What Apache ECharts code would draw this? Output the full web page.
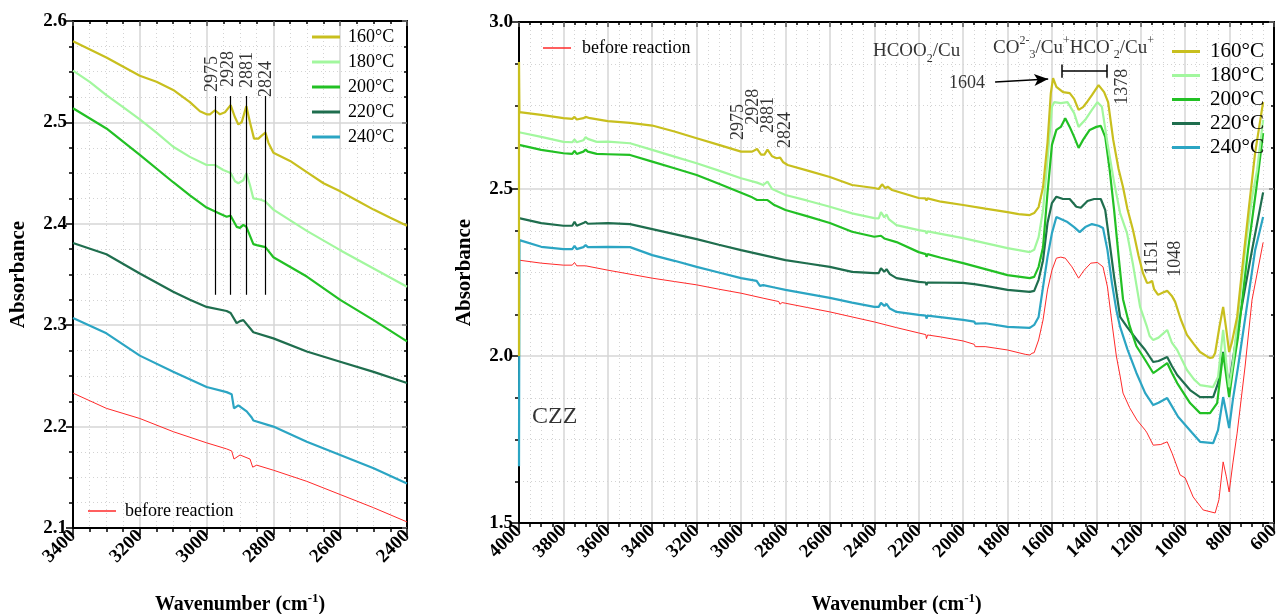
<!DOCTYPE html>
<html><head><meta charset="utf-8">
<script src="https://cdn.jsdelivr.net/npm/echarts@6/dist/echarts.min.js"></script>
<style>html,body{margin:0;padding:0;background:#fff}#c{width:1279px;height:614px}</style>
</head><body><div id="c"></div>
<script>
// ---------- DATA ----------
const tempNames = ['160°C','180°C','200°C','220°C','240°C'];
const refName = 'before reaction';
const peakWn = [2975, 2928, 2881, 2824];
const peakLabels = ['2975', '2928', '2881', '2824'];

// Left panel (3400-2400 cm-1)
const left160 = [[3400,2.580],[3300,2.564],[3200,2.546],[3150,2.540],[3100,2.532],[3050,2.520],[3020,2.511],[3000,2.508],[2990,2.508],[2975,2.512],[2960,2.508],[2945,2.510],[2928,2.517],[2915,2.505],[2905,2.498],[2895,2.500],[2881,2.516],[2870,2.500],[2858,2.484],[2845,2.484],[2835,2.487],[2824,2.490],[2815,2.480],[2800,2.470],[2750,2.462],[2700,2.451],[2650,2.440],[2600,2.432],[2550,2.423],[2500,2.414],[2450,2.406],[2400,2.398]];
const left180 = [[3400,2.551],[3350,2.540],[3300,2.527],[3250,2.515],[3200,2.503],[3150,2.490],[3100,2.476],[3050,2.466],[3000,2.458],[2975,2.458],[2950,2.453],[2928,2.450],[2915,2.442],[2905,2.440],[2890,2.443],[2881,2.450],[2870,2.438],[2860,2.425],[2840,2.424],[2824,2.422],[2800,2.414],[2700,2.393],[2600,2.374],[2500,2.356],[2400,2.338]];
const left200 = [[3400,2.514],[3300,2.494],[3200,2.468],[3100,2.441],[3050,2.428],[3000,2.416],[2960,2.410],[2940,2.407],[2928,2.408],[2910,2.397],[2900,2.396],[2890,2.399],[2881,2.397],[2860,2.380],[2850,2.379],[2824,2.377],[2800,2.367],[2700,2.348],[2600,2.325],[2500,2.305],[2400,2.284]];
const left220 = [[3400,2.381],[3300,2.370],[3200,2.351],[3100,2.333],[3050,2.325],[3000,2.318],[2940,2.314],[2928,2.312],[2910,2.302],[2900,2.304],[2890,2.305],[2860,2.293],[2800,2.287],[2700,2.274],[2600,2.264],[2500,2.254],[2400,2.243]];
const left240 = [[3400,2.307],[3300,2.292],[3200,2.270],[3100,2.254],[3000,2.239],[2940,2.234],[2925,2.232],[2918,2.218],[2905,2.221],[2880,2.215],[2865,2.209],[2860,2.206],[2800,2.200],[2700,2.185],[2600,2.172],[2500,2.159],[2400,2.144]];
const leftRef = [[3400,2.233],[3300,2.218],[3200,2.208],[3100,2.195],[3000,2.184],[2940,2.178],[2925,2.176],[2918,2.168],[2900,2.172],[2870,2.168],[2862,2.160],[2850,2.162],[2800,2.157],[2700,2.146],[2600,2.133],[2500,2.120],[2400,2.106]];

// Right panel (4000-650 cm-1)
const right160 = [[4000,2.00],[4000,2.88],[3998,2.73],[3900,2.722],[3800,2.712],[3760,2.710],[3750,2.716],[3740,2.708],[3710,2.712],[3700,2.716],[3680,2.712],[3600,2.703],[3500,2.698],[3400,2.690],[3300,2.672],[3200,2.652],[3100,2.632],[3000,2.612],[2975,2.612],[2950,2.612],[2928,2.620],[2910,2.603],[2895,2.603],[2881,2.618],[2860,2.598],[2840,2.592],[2824,2.594],[2810,2.580],[2790,2.572],[2700,2.555],[2600,2.536],[2500,2.512],[2400,2.503],[2380,2.500],[2365,2.514],[2350,2.502],[2340,2.507],[2320,2.497],[2200,2.473],[2170,2.472],[2165,2.466],[2160,2.472],[2100,2.462],[2000,2.452],[1900,2.441],[1800,2.431],[1750,2.425],[1700,2.422],[1680,2.428],[1660,2.446],[1640,2.506],[1620,2.638],[1605,2.787],[1595,2.832],[1580,2.806],[1550,2.790],[1520,2.787],[1500,2.770],[1480,2.737],[1460,2.745],[1440,2.762],[1420,2.781],[1390,2.811],[1365,2.790],[1347,2.760],[1324,2.647],[1300,2.560],[1280,2.506],[1260,2.440],[1235,2.377],[1210,2.300],[1190,2.248],[1172,2.219],[1160,2.220],[1149,2.225],[1140,2.200],[1122,2.183],[1100,2.190],[1081,2.195],[1060,2.180],[1045,2.162],[1020,2.110],[992,2.063],[960,2.035],[933,2.012],[900,1.998],[888,1.994],[875,1.996],[865,2.009],[845,2.090],[829,2.147],[815,2.080],[802,2.012],[790,2.040],[766,2.117],[739,2.287],[712,2.450],[685,2.608],[649,2.760]];
const right180 = [[4000,2.670],[3900,2.656],[3800,2.641],[3760,2.640],[3750,2.648],[3740,2.640],[3710,2.646],[3700,2.655],[3690,2.650],[3650,2.641],[3600,2.642],[3500,2.637],[3400,2.617],[3300,2.597],[3200,2.577],[3100,2.555],[3000,2.532],[2928,2.519],[2900,2.512],[2881,2.522],[2860,2.500],[2850,2.497],[2800,2.482],[2700,2.465],[2600,2.447],[2500,2.427],[2400,2.413],[2380,2.412],[2370,2.431],[2355,2.415],[2345,2.424],[2335,2.410],[2300,2.392],[2200,2.377],[2168,2.373],[2165,2.366],[2160,2.373],[2000,2.353],[1900,2.338],[1800,2.323],[1700,2.311],[1680,2.318],[1660,2.356],[1640,2.437],[1620,2.587],[1600,2.746],[1590,2.760],[1560,2.757],[1530,2.760],[1500,2.727],[1480,2.686],[1450,2.707],[1420,2.737],[1395,2.760],[1375,2.746],[1350,2.637],[1320,2.520],[1293,2.428],[1262,2.368],[1234,2.270],[1203,2.147],[1172,2.087],[1160,2.060],[1144,2.048],[1120,2.055],[1081,2.078],[1060,2.040],[1036,2.018],[992,1.958],[960,1.930],[933,1.913],[874,1.907],[852,1.937],[829,2.078],[815,1.980],[802,1.907],[785,1.980],[762,2.117],[730,2.317],[700,2.470],[676,2.557],[649,2.707]];
const right200 = [[4000,2.632],[3900,2.617],[3800,2.607],[3760,2.605],[3750,2.614],[3740,2.605],[3710,2.612],[3700,2.618],[3690,2.612],[3650,2.605],[3600,2.604],[3500,2.602],[3400,2.582],[3300,2.562],[3200,2.542],[3100,2.516],[3000,2.489],[2950,2.475],[2928,2.467],[2900,2.467],[2881,2.467],[2850,2.452],[2800,2.437],[2700,2.418],[2600,2.398],[2500,2.372],[2400,2.357],[2370,2.360],[2355,2.352],[2300,2.341],[2200,2.311],[2168,2.305],[2165,2.297],[2160,2.305],[2100,2.294],[2000,2.278],[1900,2.260],[1800,2.242],[1700,2.233],[1680,2.237],[1660,2.267],[1640,2.326],[1620,2.488],[1600,2.632],[1580,2.677],[1560,2.686],[1540,2.712],[1520,2.686],[1500,2.656],[1480,2.623],[1460,2.647],[1430,2.677],[1400,2.686],[1380,2.689],[1360,2.656],[1340,2.557],[1320,2.437],[1300,2.300],[1280,2.170],[1250,2.090],[1220,2.030],[1180,1.988],[1144,1.949],[1120,1.960],[1081,1.979],[1060,1.950],[1036,1.919],[978,1.859],[933,1.829],[888,1.829],[856,1.859],[829,2.009],[815,1.940],[802,1.877],[785,1.960],[762,2.057],[717,2.317],[680,2.500],[649,2.667]];
const right220 = [[4000,2.413],[3900,2.398],[3800,2.390],[3760,2.390],[3750,2.402],[3740,2.390],[3710,2.398],[3700,2.402],[3690,2.396],[3600,2.398],[3500,2.395],[3400,2.380],[3300,2.365],[3200,2.350],[3100,2.333],[3000,2.317],[2900,2.302],[2800,2.287],[2700,2.277],[2600,2.267],[2500,2.252],[2400,2.248],[2380,2.248],[2370,2.263],[2355,2.252],[2345,2.260],[2330,2.245],[2300,2.233],[2200,2.222],[2168,2.220],[2165,2.212],[2160,2.220],[2000,2.219],[1950,2.215],[1945,2.210],[1900,2.210],[1800,2.198],[1700,2.192],[1680,2.195],[1660,2.228],[1640,2.287],[1620,2.398],[1600,2.458],[1580,2.477],[1550,2.470],[1520,2.470],[1490,2.447],[1470,2.444],[1440,2.464],[1410,2.470],[1380,2.470],[1360,2.437],[1340,2.338],[1320,2.237],[1293,2.117],[1262,2.087],[1217,2.048],[1180,2.018],[1144,1.982],[1120,1.985],[1081,1.997],[1060,1.970],[1036,1.943],[978,1.898],[933,1.877],[874,1.877],[852,1.919],[829,2.012],[815,1.960],[802,1.913],[785,1.990],[762,2.087],[699,2.317],[675,2.400],[649,2.490]];
const right240 = [[4000,1.670],[3998,2.347],[3900,2.327],[3800,2.320],[3760,2.320],[3750,2.330],[3740,2.320],[3710,2.326],[3700,2.332],[3690,2.326],[3600,2.327],[3500,2.326],[3400,2.302],[3300,2.285],[3200,2.267],[3100,2.250],[3000,2.233],[2930,2.225],[2915,2.210],[2900,2.212],[2850,2.205],[2800,2.198],[2700,2.186],[2600,2.174],[2500,2.160],[2400,2.147],[2380,2.147],[2370,2.159],[2355,2.150],[2345,2.156],[2330,2.142],[2300,2.132],[2200,2.123],[2168,2.121],[2165,2.112],[2160,2.121],[2000,2.108],[1950,2.103],[1945,2.097],[1900,2.098],[1800,2.087],[1700,2.084],[1680,2.093],[1660,2.117],[1640,2.207],[1620,2.296],[1600,2.368],[1580,2.416],[1560,2.410],[1530,2.401],[1500,2.386],[1475,2.371],[1450,2.386],[1420,2.395],[1390,2.390],[1370,2.383],[1350,2.317],[1330,2.219],[1310,2.138],[1293,2.087],[1260,2.020],[1220,1.950],[1180,1.889],[1144,1.853],[1120,1.860],[1081,1.874],[1060,1.850],[1032,1.818],[969,1.770],[933,1.743],[874,1.739],[852,1.778],[829,1.877],[815,1.830],[802,1.784],[785,1.870],[762,1.967],[685,2.317],[649,2.416]];
const rightRef = [[4000,2.287],[3900,2.278],[3800,2.272],[3760,2.272],[3750,2.280],[3740,2.270],[3700,2.270],[3600,2.257],[3500,2.245],[3400,2.233],[3300,2.223],[3200,2.213],[3100,2.200],[3000,2.188],[2900,2.173],[2830,2.163],[2825,2.155],[2815,2.160],[2800,2.158],[2700,2.145],[2600,2.132],[2500,2.117],[2400,2.102],[2300,2.085],[2200,2.069],[2168,2.064],[2165,2.052],[2160,2.063],[2100,2.057],[2000,2.045],[1950,2.035],[1945,2.028],[1900,2.028],[1800,2.018],[1720,2.005],[1700,2.003],[1690,2.008],[1680,2.010],[1660,2.048],[1640,2.108],[1620,2.198],[1600,2.257],[1580,2.293],[1560,2.296],[1540,2.293],[1510,2.267],[1480,2.233],[1455,2.257],[1425,2.278],[1395,2.280],[1370,2.267],[1350,2.207],[1330,2.100],[1310,2.000],[1293,1.940],[1280,1.889],[1250,1.845],[1217,1.808],[1180,1.778],[1172,1.770],[1144,1.733],[1110,1.735],[1081,1.743],[1059,1.709],[1023,1.644],[1000,1.635],[964,1.578],[919,1.539],[865,1.530],[848,1.570],[829,1.683],[815,1.640],[802,1.593],[785,1.680],[766,1.769],[730,1.970],[699,2.168],[649,2.340]];

// ---------- STYLE ----------
const FONT = 'Liberation Serif';
const COLORS = ['#c8bf1e', '#a2f79e', '#22c024', '#1f6e4e', '#2ba5c3'];
const REF_COLOR = '#ff2a2a';

const RICH = {
  n: {fontFamily: FONT, fontSize: 19, color: '#000', lineHeight: 26, verticalAlign: 'middle'},
  sup: {fontFamily: FONT, fontSize: 12, color: '#000', lineHeight: 14, verticalAlign: 'top'},
  sub: {fontFamily: FONT, fontSize: 12, color: '#000', lineHeight: 14, verticalAlign: 'bottom'}
};

function xAxes(gridIndex, min, max, nameGap) {
  const common = {type: 'value', gridIndex, min, max, interval: 200, inverse: true};
  return [
    Object.assign({}, common, {
      position: 'bottom',
      axisLine: {show: true, onZero: false, lineStyle: {color: '#000', width: 2}},
      axisTick: {show: true, inside: false, length: 7, lineStyle: {color: '#000', width: 1.5}},
      minorTick: {show: true, splitNumber: 4, length: 4, lineStyle: {color: '#000', width: 1.5}},
      splitLine: {show: true, lineStyle: {color: '#d6d6d6', width: 1.5}},
      minorSplitLine: {show: true, lineStyle: {color: '#d3d3d3', width: 1, type: [1, 3]}},
      axisLabel: {rotate: 45, fontFamily: FONT, fontWeight: 'bold', fontSize: 19, color: '#000', margin: 5,
                  formatter: v => String(Math.round(v))},
      name: '{b|Wavenumber (cm}{s|-1}{b|)}',
      nameLocation: 'middle', nameGap,
      nameTextStyle: {rich: {
        b: {fontFamily: FONT, fontWeight: 'bold', fontSize: 20, color: '#000', lineHeight: 26, verticalAlign: 'middle'},
        s: {fontFamily: FONT, fontWeight: 'bold', fontSize: 13, color: '#000', lineHeight: 14, verticalAlign: 'top'}
      }}
    }),
    Object.assign({}, common, {
      position: 'top',
      axisLine: {show: true, onZero: false, lineStyle: {color: '#000', width: 2}},
      axisTick: {show: true, inside: true, length: 5, lineStyle: {color: '#555', width: 1.5}},
      minorTick: {show: true, splitNumber: 4, length: 3, lineStyle: {color: '#000', width: 1.5}},
      splitLine: {show: false}, axisLabel: {show: false}
    })
  ];
}
function yAxes(gridIndex, min, max, interval, nameGap, fontSize) {
  const common = {type: 'value', gridIndex, min, max, interval};
  return [
    Object.assign({}, common, {
      position: 'left',
      axisLine: {show: true, onZero: false, lineStyle: {color: '#000', width: 2}},
      axisTick: {show: true, inside: false, length: 7, lineStyle: {color: '#000', width: 1.5}},
      minorTick: {show: true, splitNumber: 4, length: 4, lineStyle: {color: '#000', width: 1.5}},
      splitLine: {show: true, lineStyle: {color: '#d6d6d6', width: 1.5}},
      minorSplitLine: {show: true, lineStyle: {color: '#d3d3d3', width: 1, type: [1, 3]}},
      axisLabel: {fontFamily: FONT, fontWeight: 'bold', fontSize, color: '#000', margin: 6,
                  formatter: v => v.toFixed(1)},
      name: 'Absorbance', nameLocation: 'middle', nameGap, nameRotate: 90,
      nameTextStyle: {fontFamily: FONT, fontWeight: 'bold', fontSize: 21, color: '#000'}
    }),
    Object.assign({}, common, {
      position: 'right',
      axisLine: {show: true, onZero: false, lineStyle: {color: '#000', width: 2}},
      axisTick: {show: true, inside: true, length: 5, lineStyle: {color: '#777', width: 1.5}},
      minorTick: {show: true, splitNumber: 4, length: 3, lineStyle: {color: '#000', width: 1.5}},
      splitLine: {show: false}, axisLabel: {show: false}
    })
  ];
}

function lineSeries(name, data, color, width, xi, yi, z) {
  return {type: 'line', name, data, xAxisIndex: xi, yAxisIndex: yi, z,
    symbol: 'none', showSymbol: false, animation: false, clip: true,
    lineStyle: {color, width}, itemStyle: {color}};
}

function textSeries(xi, yi, items, marks) {
  return {
    type: 'scatter', xAxisIndex: xi, yAxisIndex: yi, symbolSize: 1, silent: true, z: 20, animation: false,
    itemStyle: {color: 'rgba(0,0,0,0)'},
    data: items.map(it => ({
      value: [it.x, it.y],
      label: {show: true, position: 'inside', formatter: it.text, rotate: it.rotate || 0,
        align: it.align || 'left', verticalAlign: it.va || 'middle',
        fontFamily: FONT, fontSize: it.size || 17, color: '#000', rich: it.rich}
    })),
    markLine: marks ? Object.assign({silent: true, animation: false, label: {show: false}}, marks) : undefined
  };
}

const leftData = [left160, left180, left200, left220, left240];
const rightData = [right160, right180, right200, right220, right240];

const series = [];
series.push(lineSeries(refName, leftRef, REF_COLOR, 1, 0, 0, 2));
for (let i = tempNames.length - 1; i >= 0; i--) series.push(lineSeries(tempNames[i], leftData[i], COLORS[i], 2.2, 0, 0, 3));
series.push(lineSeries(refName, rightRef, REF_COLOR, 1, 2, 2, 2));
for (let i = tempNames.length - 1; i >= 0; i--) series.push(lineSeries(tempNames[i], rightData[i], COLORS[i], 2.2, 2, 2, 3));

// left annotations
const leftLabelPos = [[2984, 2.530], [2936, 2.535], [2879, 2.534], [2822, 2.525]];
series.push(textSeries(0, 0,
  peakLabels.map((t, i) => ({x: leftLabelPos[i][0], y: leftLabelPos[i][1], text: t, rotate: 90, size: 18})),
  {symbol: 'none', lineStyle: {color: '#000', width: 1.2, type: 'solid'},
   data: peakWn.map(w => [{coord: [w, 2.330]}, {coord: [w, 2.526]}])}
));

// right annotations
const rightLabelPos = [[3014, 2.647], [2946, 2.692], [2878, 2.668], [2802, 2.623]];
const rightItems = peakLabels.map((t, i) => ({x: rightLabelPos[i][0], y: rightLabelPos[i][1], text: t, rotate: 90, size: 18}));
rightItems.push({x: 2406, y: 2.912, text: '{n|HCOO}{sub|2}{n|/Cu}', rich: RICH});
rightItems.push({x: 1865, y: 2.922, text: '{n|CO}{sup|2-}{sub|3}{n|/Cu}{sup|+}{n|HCO}{sup|-}{sub|2}{n|/Cu}{sup|+}', rich: RICH});
rightItems.push({x: 1901, y: 2.817, text: '1604', align: 'right', size: 18});
rightItems.push({x: 1284, y: 2.752, text: '1378', rotate: 90, size: 18});
rightItems.push({x: 1149, y: 2.243, text: '1151', rotate: 90, size: 18});
rightItems.push({x: 1045, y: 2.237, text: '1048', rotate: 90, size: 18});
rightItems.push({x: 3941, y: 1.817, text: 'CZZ', size: 24});
series.push(textSeries(2, 2, rightItems, {
  symbol: 'none', lineStyle: {color: '#000', width: 1.5, type: 'solid'},
  data: [
    [{coord: [1554, 2.853]}, {coord: [1352, 2.853]}],
    [{coord: [1554, 2.873]}, {coord: [1554, 2.833]}],
    [{coord: [1352, 2.873]}, {coord: [1352, 2.833]}],
    [{coord: [1856, 2.820], symbol: 'none'}, {coord: [1617, 2.829], symbol: 'arrow', symbolSize: [9, 14]}]
  ]
}));

const legendText = (size, pad) => ({fontFamily: FONT, fontSize: size, color: '#000', padding: [0, 0, 0, pad]});
const option = {
  backgroundColor: '#fff',
  animation: false,
  grid: [
    {left: 73, top: 21, width: 334, height: 507, containLabel: false, outerBoundsMode: 'none'},
    {left: 519, top: 22, width: 755, height: 501, containLabel: false, outerBoundsMode: 'none'}
  ],
  xAxis: [...xAxes(0, 2400, 3400, 64), ...xAxes(1, 600, 4000, 69)],
  yAxis: [...yAxes(0, 2.1, 2.6, 0.1, 44, 19), ...yAxes(1, 1.5, 3.0, 0.5, 44, 19)],
  legend: [
    {data: tempNames, orient: 'vertical', left: 307, top: 23, itemWidth: 28, itemHeight: 3, itemGap: 7, icon: 'rect',
     textStyle: legendText(18, 3), selectedMode: false},
    {data: [refName], orient: 'vertical', left: 83, top: 497, itemWidth: 28, itemHeight: 1.5, icon: 'rect',
     textStyle: legendText(18, 4), selectedMode: false},
    {data: tempNames, orient: 'vertical', left: 1167, top: 36, itemWidth: 28, itemHeight: 3, itemGap: 3, icon: 'rect',
     textStyle: legendText(21, 5), selectedMode: false},
    {data: [refName], orient: 'vertical', left: 538, top: 34, itemWidth: 28, itemHeight: 1.5, icon: 'rect',
     textStyle: legendText(18, 6), selectedMode: false}
  ],
  series
};
const chart = echarts.init(document.getElementById('c'));
chart.setOption(option);
</script>
</body></html>
